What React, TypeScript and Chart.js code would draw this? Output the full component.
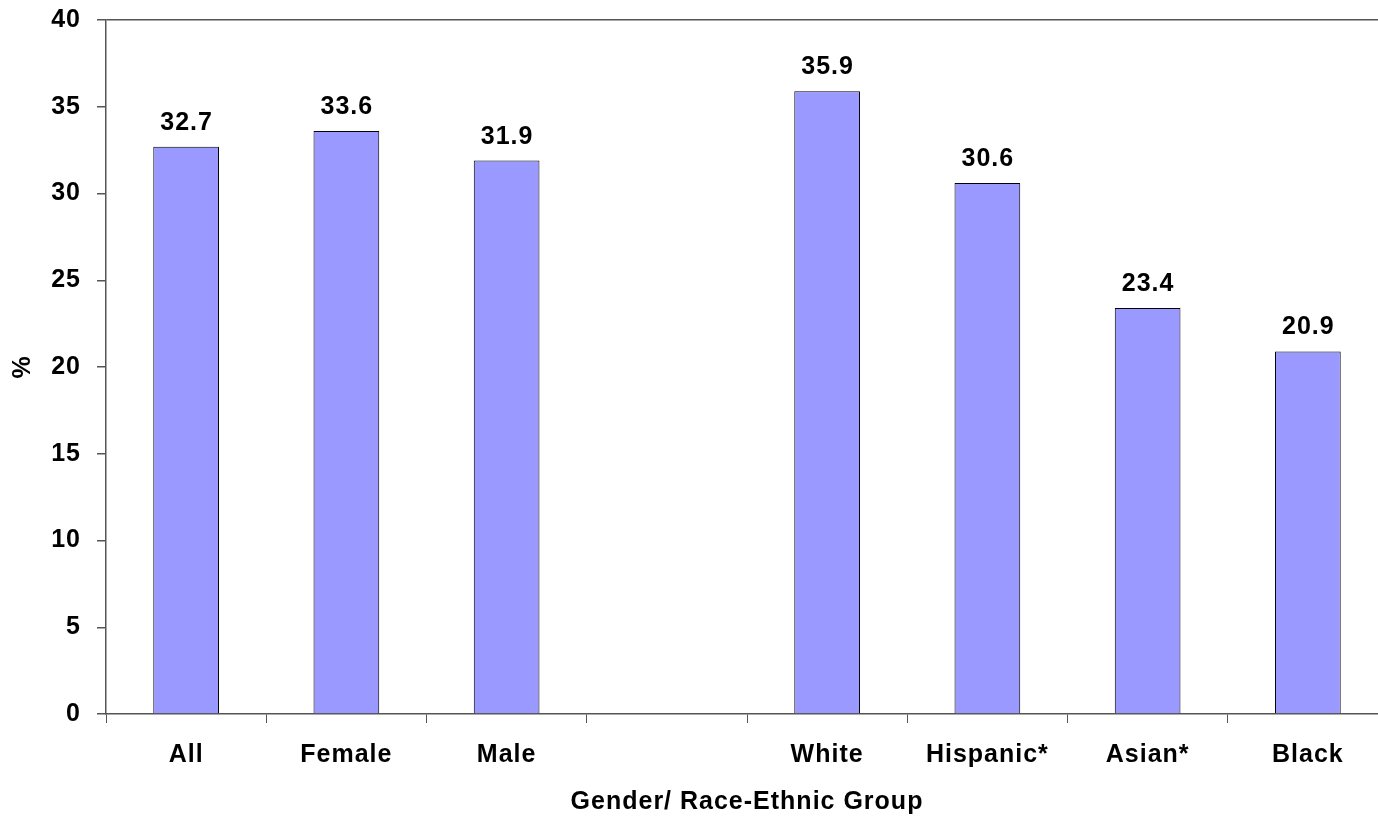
import React, { useEffect, useRef } from "react";
import { Chart, registerables } from "chart.js";

Chart.register(...registerables);

const categories = ["All", "Female", "Male", "", "White", "Hispanic*", "Asian*", "Black"];
const values: (number | null)[] = [32.7, 33.6, 31.9, null, 35.9, 30.6, 23.4, 20.9];
const yTicks = [0, 5, 10, 15, 20, 25, 30, 35, 40];

const FONT = "'Liberation Sans', Arial, sans-serif";

const spacing = {
  id: "spacing",
  beforeUpdate(chart: any) {
    chart.ctx.letterSpacing = "1px";
  },
  beforeDraw(chart: any) {
    chart.ctx.letterSpacing = "1px";
  },
};

const valueLabels = {
  id: "valueLabels",
  afterDatasetsDraw(chart: any) {
    const ctx = chart.ctx;
    const meta = chart.getDatasetMeta(0);
    ctx.save();
    ctx.font = `bold 25px ${FONT}`;
    ctx.fillStyle = "#000";
    ctx.textAlign = "center";
    ctx.textBaseline = "alphabetic";
    meta.data.forEach((bar: any, i: number) => {
      const v = values[i];
      if (v == null) return;
      ctx.fillText(v.toFixed(1), bar.x + 0.5, bar.y - 17);
    });
    ctx.restore();
  },
};

export default function App() {
  const ref = useRef<HTMLCanvasElement>(null);
  useEffect(() => {
    if (!ref.current) return;
    const chart = new Chart(ref.current, {
      type: "bar",
      data: {
        labels: categories,
        datasets: [
          {
            data: values,
            backgroundColor: "#9999FF",
            borderColor: "#000",
            borderWidth: 1,
            barPercentage: 0.41,
            categoryPercentage: 1,
          },
        ],
      },
      options: {
        animation: false,
        responsive: false,
        layout: { padding: { top: 20, right: 12, bottom: 0, left: 0 } },
        plugins: { legend: { display: false }, tooltip: { enabled: false } },
        scales: {
          x: {
            grid: {
              display: true,
              drawOnChartArea: false,
              drawTicks: true,
              tickLength: 9,
              tickColor: "#555",
              offset: true,
            },
            border: { display: true, color: "#555", width: 1.5 },
            ticks: {
              color: "#000",
              font: { family: FONT, size: 25, weight: "bold" },
              padding: 17,
              maxRotation: 0,
              autoSkip: false,
            },
            title: {
              display: true,
              text: "Gender/ Race-Ethnic Group",
              color: "#000",
              font: { family: FONT, size: 25, weight: "bold" },
              padding: { top: 0, bottom: 0 },
            },
            afterFit(scale: any) {
              scale.height = 103;
              scale.paddingLeft = 0;
              scale.paddingRight = 0;
            },
          },
          y: {
            min: 0,
            max: 40,
            afterBuildTicks(scale: any) {
              scale.ticks = yTicks.map((v) => ({ value: v }));
            },
            grid: {
              display: true,
              drawOnChartArea: true,
              drawTicks: true,
              tickLength: 9,
              tickColor: "#555",
              color: (c: any) => (c.tick && c.tick.value === 40 ? "#555" : "rgba(0,0,0,0)"),
              lineWidth: 1.5,
            },
            border: { display: true, color: "#555", width: 1.5 },
            ticks: {
              color: "#000",
              font: { family: FONT, size: 25, weight: "bold" },
              padding: 16,
            },
            title: {
              display: true,
              text: "%",
              color: "#000",
              font: { family: FONT, size: 25, weight: "bold" },
              padding: { top: 8, bottom: 0 },
            },
            afterFit(scale: any) {
              scale.width = 106;
              scale.paddingTop = 0;
              scale.paddingBottom = 0;
            },
          },
        },
      },
      plugins: [spacing, valueLabels],
    });
    return () => chart.destroy();
  }, []);
  return (
    <div style={{ position: "fixed", left: 0, top: 0, width: 1400, height: 817, background: "#fff" }}>
      <canvas ref={ref} width={1400} height={817} style={{ width: 1400, height: 817 }} />
    </div>
  );
}
